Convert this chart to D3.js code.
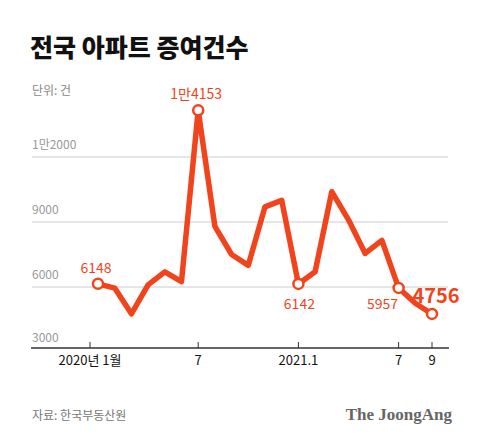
<!DOCTYPE html>
<html><head><meta charset="utf-8">
<script src="https://cdn.jsdelivr.net/npm/d3@7"></script>
<style>body{margin:0;background:#fff}</style></head>
<body><svg id="c" width="480" height="444"></svg>
<script>
const months = d3.range(21);
const values = [6148,5950,4760,6100,6700,6250,14153,8800,7500,7000,9700,10000,6142,6700,10400,9100,7550,8150,5957,5250,4756];
const yTicks = [3000,6000,9000,12000];
const yTickLabels = ["3000","6000","9000","1만2000"];
const xTicks = [0,6,12,18,20];
const xTickLabels = ["2020년 1월","7","2021.1","7","9"];
const labeled = [{i:0,t:"6148",pos:"up"},{i:6,t:"1만4153",pos:"up"},{i:12,t:"6142",pos:"down"},{i:18,t:"5957",pos:"downleft"},{i:20,t:"4756",pos:"big"}];
const C="#f2441c", F="Noto Sans CJK KR, sans-serif";
const svg=d3.select("#c");
const x=d3.scaleLinear().domain([0,20]).range([98,432]);
const y=d3.scaleLinear().domain([6000,12000]).range([287,157]);
svg.append("text").attr("x",30).attr("y",57).attr("font-family",F).attr("font-weight",900).attr("font-size",25).attr("fill","#111").text("전국 아파트 증여건수");
svg.append("text").attr("x",32).attr("y",95).attr("font-family",F).attr("font-size",12).attr("fill","#888").text("단위: 건");
yTicks.forEach((t,k)=>{
  if(k>0) svg.append("line").attr("x1",32).attr("x2",448).attr("y1",y(t)).attr("y2",y(t)).attr("stroke","#ccc");
  svg.append("text").attr("x",32).attr("y",y(t)-(k==0?10:8)).attr("font-family",F).attr("font-size",12).attr("fill","#999").text(yTickLabels[k]);
});
const by=348;
svg.append("line").attr("x1",31).attr("x2",449).attr("y1",by).attr("y2",by).attr("stroke","#333").attr("stroke-width",1.5);
xTicks.forEach((t,k)=>{
  const xx=k==0?90:x(t);
  svg.append("line").attr("x1",xx).attr("x2",xx).attr("y1",by-6).attr("y2",by).attr("stroke","#333");
  svg.append("text").attr("x",xx).attr("y",by+17).attr("text-anchor","middle").attr("font-family",F).attr("font-size",13).attr("fill","#111").text(xTickLabels[k]);
});
svg.append("path").datum(months).attr("fill","none").attr("stroke",C).attr("stroke-width",5.5).attr("stroke-linejoin","round")
 .attr("d",d3.line().x(i=>x(i)).y(i=>y(values[i])));
labeled.forEach(l=>{
  const px=x(l.i), py=y(values[l.i]);
  svg.append("circle").attr("cx",px).attr("cy",py).attr("r",5).attr("fill","#fff").attr("stroke",C).attr("stroke-width",2.5);
  const t=svg.append("text").attr("font-family",F).attr("fill",C).text(l.t);
  if(l.pos=="up") t.attr("x",px-2).attr("y",py-11).attr("text-anchor","middle").attr("font-size",14);
  if(l.pos=="down") t.attr("x",px+1).attr("y",py+25).attr("text-anchor","middle").attr("font-size",14);
  if(l.pos=="downleft") t.attr("x",px-16).attr("y",py+21).attr("text-anchor","middle").attr("font-size",14);
  if(l.pos=="big") t.attr("x",px+4).attr("y",py-11).attr("text-anchor","middle").attr("font-size",20).attr("font-weight",700);
});
svg.append("text").attr("x",32).attr("y",420).attr("font-family",F).attr("font-size",12).attr("fill","#777").text("자료: 한국부동산원");
svg.append("text").attr("x",452).attr("y",420).attr("text-anchor","end").attr("font-family","Liberation Serif, serif").attr("font-weight",700).attr("font-size",17).attr("fill","#666").text("The JoongAng");
</script></body></html>
